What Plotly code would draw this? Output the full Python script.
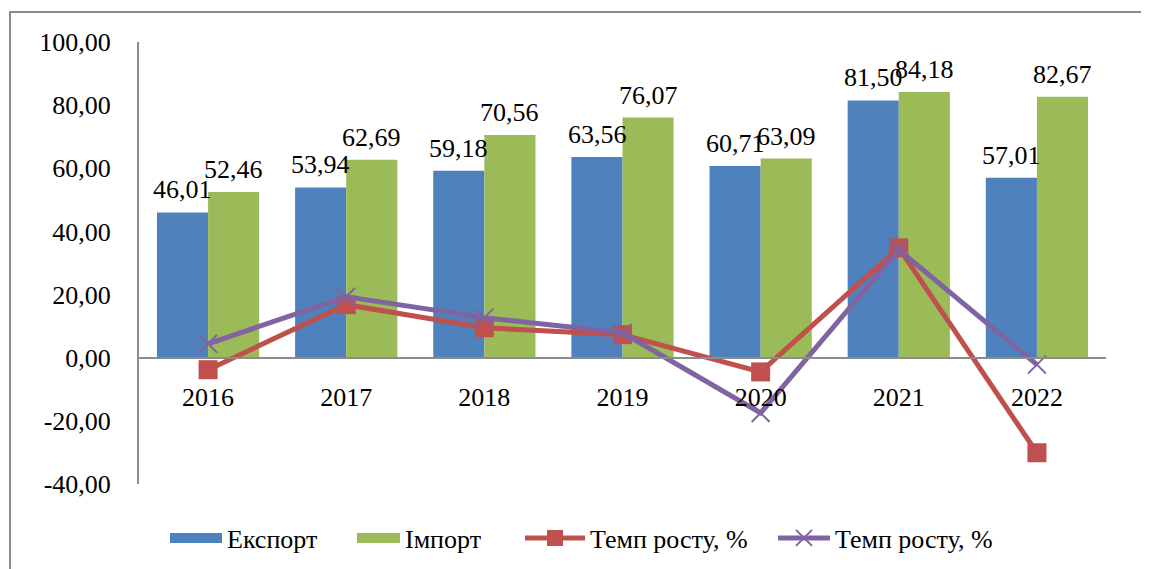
import plotly.graph_objects as go

years = ["2016", "2017", "2018", "2019", "2020", "2021", "2022"]
export_vals = [46.01, 53.94, 59.18, 63.56, 60.71, 81.50, 57.01]
import_vals = [52.46, 62.69, 70.56, 76.07, 63.09, 84.18, 82.67]
growth_export = [-3.8, 16.8, 9.5, 7.3, -4.5, 34.8, -30.1]
growth_import = [4.4, 19.3, 12.7, 7.9, -17.5, 34.2, -2.2]

y_ticks = [-40, -20, 0, 20, 40, 60, 80, 100]

def fmt(v):
    return f"{v:.2f}".replace(".", ",")

FONT = "Liberation Serif"
FS = 26
BLUE, GREEN, RED, PURPLE = "#4F81BD", "#9BBB59", "#C0504D", "#8064A2"

# page body has an 8px margin
OFF = 8
PL, PR = 139, 1106                 # plot area left/right (page px)
PT, PB = 42, 484                   # plot area top/bottom (page px)
W, H = 1149 - OFF, 569 - OFF
PW, PH = PR - PL, PB - PT

def px_x(px):
    return (px - PL) / PW

def px_y(py):
    return (PB - py) / PH

fig = go.Figure()
fig.add_trace(go.Bar(
    x=years, y=export_vals, name="Експорт", showlegend=False,
    marker=dict(color=BLUE, line=dict(width=0)),
))
fig.add_trace(go.Bar(
    x=years, y=import_vals, name="Імпорт", showlegend=False,
    marker=dict(color=GREEN, line=dict(width=0)),
))
fig.add_trace(go.Scatter(
    x=years, y=growth_export, name="Темп росту, %", mode="lines+markers",
    line=dict(color=RED, width=5),
    marker=dict(symbol="square", size=19, color=RED),
    cliponaxis=False, legend="legend3",
))
fig.add_trace(go.Scatter(
    x=years, y=growth_import, name="Темп росту, %", mode="lines+markers",
    line=dict(color=PURPLE, width=5),
    marker=dict(symbol="x-thin", size=18, color=PURPLE,
                line=dict(width=2, color=PURPLE)),
    cliponaxis=False, legend="legend4",
))
# legend-only entries for the bars (wide swatches like the original)
fig.add_trace(go.Scatter(x=[years[0]], y=[None], name="Експорт", mode="lines",
                         line=dict(color=BLUE, width=15), legend="legend",
                         hoverinfo="skip"))
fig.add_trace(go.Scatter(x=[years[0]], y=[None], name="Імпорт", mode="lines",
                         line=dict(color=GREEN, width=15), legend="legend2",
                         hoverinfo="skip"))

# data labels above bars (x given as category index)
annotations = []
for i, yr in enumerate(years):
    for vals, shift in ((export_vals, -25.5), (import_vals, 25.5)):
        annotations.append(dict(
            x=i, y=vals[i], text=fmt(vals[i]), showarrow=False,
            xref="x", yref="y", xshift=shift, yshift=6, yanchor="bottom",
            font=dict(family=FONT, size=FS, color="black"),
        ))

legfont = dict(family=FONT, size=FS, color="black")
leg_common = dict(orientation="h", yanchor="middle", y=px_y(538),
                  xanchor="left", font=legfont, bgcolor="rgba(0,0,0,0)")

fig.update_layout(
    width=W, height=H,
    margin=dict(l=PL - OFF, r=W - (PR - OFF), t=PT - OFF, b=H - (PB - OFF),
                autoexpand=False),
    paper_bgcolor="white", plot_bgcolor="white",
    barmode="group", bargap=0.26, bargroupgap=0,
    font=dict(family=FONT, size=FS, color="black"),
    showlegend=True,
    legend=dict(x=px_x(165), itemwidth=52, **leg_common),
    legend2=dict(x=px_x(352), itemwidth=43, **leg_common),
    legend3=dict(x=px_x(520), itemwidth=60, **leg_common),
    legend4=dict(x=px_x(773), itemwidth=52, **leg_common),
    xaxis=dict(
        type="category", categoryorder="array", categoryarray=years,
        range=[-0.5, len(years) - 0.5],
        anchor="free", position=40 / 140,
        showline=True, linecolor="#8c8c8c", linewidth=2,
        ticks="", showgrid=False, zeroline=False,
        tickfont=dict(family=FONT, size=FS, color="black"),
        ticklabelstandoff=16,
    ),
    yaxis=dict(
        range=[-40, 100], tickvals=y_ticks, ticktext=[fmt(v) for v in y_ticks],
        showline=True, linecolor="#8c8c8c", linewidth=2,
        showgrid=False, zeroline=False, ticks="",
        tickfont=dict(family=FONT, size=FS, color="black"),
        ticklabelstandoff=21,
    ),
    annotations=annotations,
    shapes=[dict(type="rect", xref="paper", yref="paper",
                 x0=px_x(10), x1=1.3, y0=-0.5, y1=px_y(12),
                 line=dict(color="#8c8c8c", width=2), layer="below")],
)

fig.write_html("out.html")
